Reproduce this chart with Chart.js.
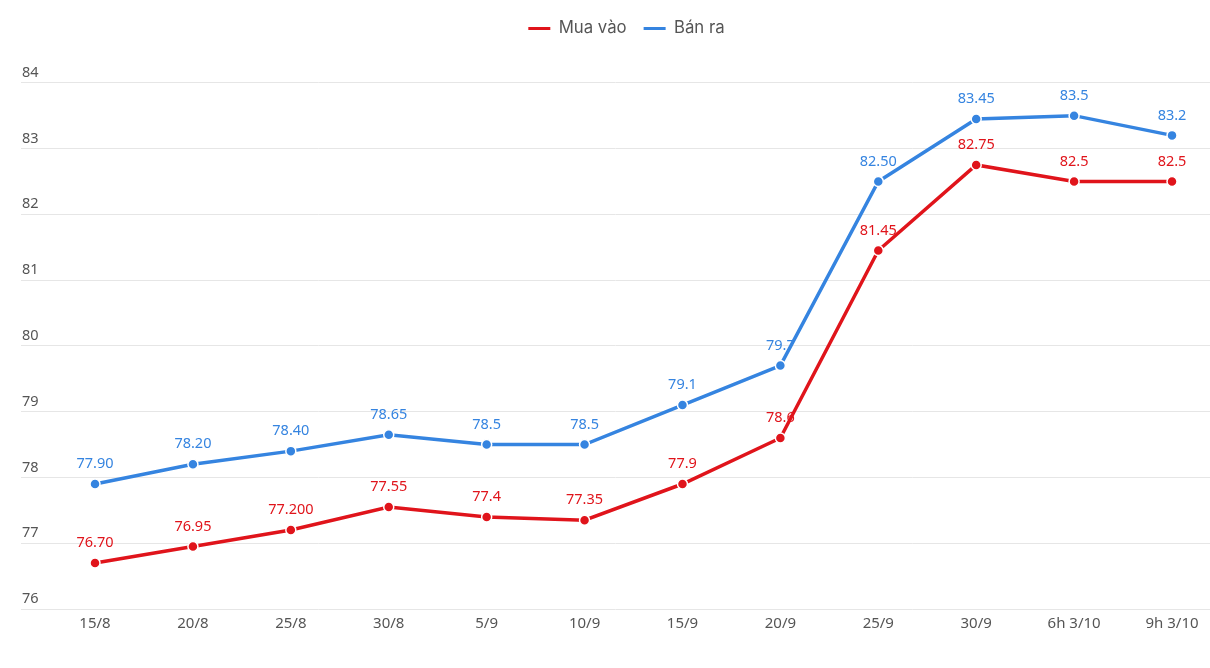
<!DOCTYPE html>
<html>
<head>
<meta charset="utf-8">
<script src="https://cdn.jsdelivr.net/npm/chart.js@4"></script>
<style>
html,body{margin:0;padding:0;background:#fff;}
#wrap{width:1210px;height:668px;position:relative;}
</style>
</head>
<body>
<div id="wrap"><canvas id="c" width="1210" height="668"></canvas></div>
<script>
const categories = ['15/8','20/8','25/8','30/8','5/9','10/9','15/9','20/9','25/9','30/9','6h 3/10','9h 3/10'];
const buyValues  = [76.70, 76.95, 77.20, 77.55, 77.40, 77.35, 77.90, 78.60, 81.45, 82.75, 82.50, 82.50];
const sellValues = [77.90, 78.20, 78.40, 78.65, 78.50, 78.50, 79.10, 79.70, 82.50, 83.45, 83.50, 83.20];
const buyLabels  = ['76.70','76.95','77.200','77.55','77.4','77.35','77.9','78.6','81.45','82.75','82.5','82.5'];
const sellLabels = ['77.90','78.20','78.40','78.65','78.5','78.5','79.1','79.7','82.50','83.45','83.5','83.2'];
const yTicks = [76, 77, 78, 79, 80, 81, 82, 83, 84];
const seriesNames = ['Mua vào', 'Bán ra'];
const RED = '#e0141b';
const BLUE = '#3584e0';

const valueLabelPlugin = {
  id: 'valueLabels',
  beforeDatasetsDraw(chart) {
    const ctx = chart.ctx;
    const texts = [buyLabels, sellLabels];
    chart.data.datasets.forEach((ds, di) => {
      const meta = chart.getDatasetMeta(di);
      ctx.save();
      ctx.font = '14.5px "Noto Sans", "Open Sans", sans-serif';
      ctx.fillStyle = ds.borderColor;
      ctx.textAlign = 'center';
      ctx.textBaseline = 'middle';
      meta.data.forEach((pt, i) => {
        ctx.fillText(texts[di][i], pt.x, pt.y - 20);
      });
      ctx.restore();
    });
  }
};

const legendMarginPlugin = {
  id: 'legendMargin',
  beforeInit(chart) {
    if (!chart.legend) return;
    const origFit = chart.legend.fit;
    chart.legend.fit = function () {
      origFit.call(this);
      this.height += 36;
    };
  },
  afterLayout(chart) {
    if (!chart.legend) return;
    chart.legend.left += 11;
    chart.legend.right += 11;
  }
};

const toPoints = arr => arr.map((v, i) => ({x: i, y: v}));

new Chart(document.getElementById('c'), {
  type: 'line',
  data: {
    datasets: [
      {
        label: seriesNames[0],
        data: toPoints(buyValues),
        borderColor: RED,
        backgroundColor: RED,
        borderWidth: 3.5,
        pointRadius: 5,
        pointHoverRadius: 5,
        pointBackgroundColor: RED,
        pointBorderColor: '#fff',
        pointBorderWidth: 1.5,
        tension: 0
      },
      {
        label: seriesNames[1],
        data: toPoints(sellValues),
        borderColor: BLUE,
        backgroundColor: BLUE,
        borderWidth: 3.5,
        pointRadius: 5,
        pointHoverRadius: 5,
        pointBackgroundColor: BLUE,
        pointBorderColor: '#fff',
        pointBorderWidth: 1.5,
        tension: 0
      }
    ]
  },
  options: {
    responsive: false,
    animation: false,
    layout: { autoPadding: false, padding: { left: 21, right: 0, top: 3, bottom: 29 } },
    plugins: {
      tooltip: { enabled: false },
      legend: {
        position: 'top',
        labels: {
          boxWidth: 22,
          boxHeight: 3,
          padding: 17,
          color: '#555',
          font: { size: 16.75, family: 'Inter, "Open Sans", sans-serif' },
          generateLabels(chart) {
            return chart.data.datasets.map((ds, i) => ({
              text: ds.label,
              fillStyle: ds.borderColor,
              strokeStyle: ds.borderColor,
              lineWidth: 0,
              hidden: false,
              datasetIndex: i,
              fontColor: '#555'
            }));
          }
        }
      }
    },
    scales: {
      x: {
        type: 'linear',
        min: -0.756,
        max: 11.388,
        grid: { display: false, drawTicks: false },
        border: { display: false },
        afterBuildTicks(scale) {
          scale.ticks = categories.map((c, i) => ({ value: i }));
        },
        afterFit(scale) {
          scale.paddingLeft = 0;
          scale.paddingRight = 0;
        },
        ticks: {
          autoSkip: false,
          maxRotation: 0,
          padding: 6,
          color: '#555',
          font: { size: 15, family: '"Noto Sans", "Open Sans", sans-serif' },
          callback: (v) => categories[v]
        }
      },
      y: {
        min: 76,
        max: 84,
        afterBuildTicks(scale) {
          scale.ticks = yTicks.map(v => ({ value: v }));
        },
        afterFit(scale) {
          scale.width = 0;
          scale.paddingTop = 0;
          scale.paddingBottom = 0;
        },
        grid: { color: '#e6e6e6', drawTicks: false, lineWidth: 1 },
        border: { display: false },
        ticks: {
          mirror: true,
          padding: 1,
          labelOffset: -10,
          color: '#555',
          font: { size: 14.5, family: '"Noto Sans", "Open Sans", sans-serif' }
        }
      }
    }
  },
  plugins: [valueLabelPlugin, legendMarginPlugin]
});
</script>
</body>
</html>
